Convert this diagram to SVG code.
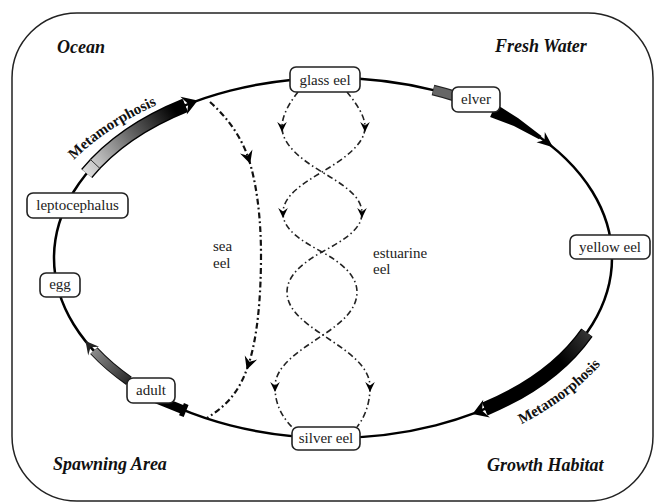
<svg xmlns="http://www.w3.org/2000/svg" width="655" height="504" viewBox="0 0 655 504">
<style>
.node rect{fill:#fff;stroke:#222;stroke-width:1.6}
.node text{font-family:"Liberation Serif",serif;font-size:15px;fill:#222;text-anchor:middle}
.region{font-family:"Liberation Serif",serif;font-size:18px;font-weight:bold;font-style:italic;fill:#111}
.lbl{font-family:"Liberation Serif",serif;font-size:15px;fill:#222}
.meta{font-family:"Liberation Serif",serif;font-size:15px;font-weight:bold;fill:#111}
.cycle{fill:none;stroke:#000;stroke-width:2.5}
.sea{fill:none;stroke:#111;stroke-width:2.2;stroke-dasharray:6 3 1.8 3}
.est{fill:none;stroke:#222;stroke-width:1.6;stroke-dasharray:6 3 1.5 3}
</style>
<defs>
<linearGradient id="gTL" gradientUnits="userSpaceOnUse" x1="87" y1="174" x2="186" y2="105">
<stop offset="0" stop-color="#dcdcdc"/><stop offset="0.15" stop-color="#bdbdbd"/><stop offset="0.55" stop-color="#555"/><stop offset="0.9" stop-color="#000"/>
</linearGradient>
<linearGradient id="gAd" gradientUnits="userSpaceOnUse" x1="129" y1="381" x2="94" y2="351">
<stop offset="0" stop-color="#2a2a2a"/><stop offset="1" stop-color="#8a8a8a"/>
</linearGradient>
<linearGradient id="gBR" gradientUnits="userSpaceOnUse" x1="587" y1="333" x2="485" y2="409">
<stop offset="0" stop-color="#333"/><stop offset="0.3" stop-color="#000"/>
</linearGradient>
<path id="ahBig" d="M0 0 L-15 -9.5 L-10 0 L-15 9.5 Z"/>
<path id="ahMid" d="M0 0 L-16 -6.5 L-11 0 L-16 6.5 Z"/>
<path id="ahAd" d="M0 0 L-13 -7 L-8 0 L-13 7 Z"/>
<path id="ahSea" d="M0 0 L-13 -6.5 L-8.5 0 L-13 6.5 Z"/>
<path id="ahEst" d="M0 0 L-10 -4.8 L-6.5 0 L-10 4.8 Z"/>
<path id="tpTL" d="M 74 160 A 304 187.5 0 0 1 185 94"/>
<path id="tpBR" d="M 505 432 A 311 209 0 0 0 620 338.5"/>
</defs>

<rect id="frame" x="12" y="13" width="641" height="488" rx="65" ry="65" fill="#fff" stroke="#222" stroke-width="1.5"/>

<g id="regions">
<text class="region" x="57" y="53">Ocean</text>
<text class="region" x="495" y="52">Fresh Water</text>
<text class="region" x="53" y="470">Spawning Area</text>
<text class="region" x="487" y="471">Growth Habitat</text>
</g>

<g id="connectors">
<ellipse class="cycle" cx="333" cy="258" rx="279" ry="180"/>

<!-- leptocephalus -> glass eel : Metamorphosis -->
<path d="M 86.7 173.5 A 279 180 0 0 1 185.2 105.4" fill="none" stroke="#000" stroke-width="14.5"/>
<path d="M 86.7 173.5 A 279 180 0 0 1 185.2 105.4" fill="none" stroke="url(#gTL)" stroke-width="11.5"/>
<line x1="100.2" y1="168.7" x2="90" y2="159.1" stroke="#333" stroke-width="1"/>
<use href="#ahBig" transform="translate(197.7,100.6) rotate(-19.7)" fill="#000"/>
<text class="meta"><textPath href="#tpTL">Metamorphosis</textPath></text>

<!-- glass eel -> elver -->
<path d="M 433 90 A 279 180 0 0 1 455.3 96.2" fill="none" stroke="#222" stroke-width="11"/>
<path d="M 433.5 90.1 A 279 180 0 0 1 455.3 96.2" fill="none" stroke="#666" stroke-width="8.5"/>

<!-- elver -> yellow eel -->
<polygon points="495.9,104.1 518.3,118.3 541.5,136 539.1,139.2 513.9,126.1 490.1,116.9" fill="#000"/>
<use href="#ahMid" transform="translate(553,147.3) rotate(39.5)" fill="#000"/>

<!-- yellow eel -> silver eel : Metamorphosis -->
<path d="M 586.9 332.6 A 279 180 0 0 1 484.9 409" fill="none" stroke="#000" stroke-width="14"/>
<path d="M 586.9 332.6 A 279 180 0 0 1 484.9 409" fill="none" stroke="url(#gBR)" stroke-width="11.5"/>
<use href="#ahBig" transform="translate(472.5,413.9) rotate(159.6)" fill="#000"/>
<text class="meta"><textPath href="#tpBR" startOffset="18">Metamorphosis</textPath></text>

<!-- silver eel -> adult -->
<g transform="translate(185.2,410.6) rotate(202)">
<rect x="0" y="-4.5" width="34" height="9" fill="#000"/>
<rect x="-1" y="-6.5" width="5" height="13" fill="#000"/>
</g>

<!-- adult -> egg -->
<path d="M 128.9 380.8 A 279 180 0 0 1 93.8 350.7" fill="none" stroke="#111" stroke-width="10"/>
<path d="M 128.9 380.8 A 279 180 0 0 1 93.8 350.7" fill="none" stroke="url(#gAd)" stroke-width="8"/>
<use href="#ahAd" transform="translate(85.5,341.1) rotate(-128.9)" fill="#222"/>

<!-- sea eel -->
<path class="sea" d="M 210 102 C 228 118, 242 138, 249 160 C 256 182, 261 215, 261 255 C 261 300, 257 340, 248 366 C 240 390, 228 405, 207 418"/>
<use href="#ahSea" transform="translate(250.2,163.8) rotate(72.3)" fill="#000"/>
<use href="#ahSea" transform="translate(246.7,369.8) rotate(109)" fill="#000"/>

<!-- estuarine eel -->
<path class="est" d="M 298 92 C 290 102, 282 115, 282 127 C 282 145, 302 160, 322 172 C 342 184, 362 196, 362 213 C 362 230, 342 241, 322 252 C 302 263, 287 276, 287 292 C 287 310, 305 323, 323 335 C 345 350, 370 365, 370 387 C 370 405, 364 418, 357 427"/>
<path class="est" d="M 347 92 C 355 102, 365 115, 365 127 C 365 145, 342 160, 322 172 C 302 184, 283 196, 283 213 C 283 230, 302 241, 322 252 C 342 263, 357 276, 357 292 C 357 310, 341 323, 323 335 C 301 350, 275 365, 275 387 C 275 405, 283 418, 292 427"/>
<use href="#ahEst" transform="translate(282,132) rotate(90)" fill="#000"/>
<use href="#ahEst" transform="translate(365,132) rotate(90)" fill="#000"/>
<use href="#ahEst" transform="translate(283,218) rotate(90)" fill="#000"/>
<use href="#ahEst" transform="translate(362,218) rotate(90)" fill="#000"/>
<use href="#ahEst" transform="translate(275,392) rotate(90)" fill="#000"/>
<use href="#ahEst" transform="translate(370,392) rotate(90)" fill="#000"/>

<text class="lbl" x="213" y="251">sea</text>
<text class="lbl" x="213" y="268">eel</text>
<text class="lbl" x="373" y="258">estuarine</text>
<text class="lbl" x="373" y="274">eel</text>
</g>

<g id="glass-eel" class="node"><rect x="290" y="67" width="70" height="25" rx="6"/><text x="325" y="84.5">glass eel</text></g>
<g id="elver" class="node"><rect x="452" y="87" width="48" height="25" rx="6"/><text x="476" y="104">elver</text></g>
<g id="yellow-eel" class="node"><rect x="570" y="235" width="80" height="24" rx="6"/><text x="610" y="252">yellow eel</text></g>
<g id="silver-eel" class="node"><rect x="292" y="427" width="68" height="23" rx="6"/><text x="326" y="443">silver eel</text></g>
<g id="adult" class="node"><rect x="127" y="378" width="48" height="25" rx="6"/><text x="151" y="395">adult</text></g>
<g id="egg" class="node"><rect x="40" y="273" width="40" height="24" rx="6"/><text x="60" y="289">egg</text></g>
<g id="leptocephalus" class="node"><rect x="27" y="193" width="101" height="25" rx="6"/><text x="77.5" y="210">leptocephalus</text></g>
</svg>
